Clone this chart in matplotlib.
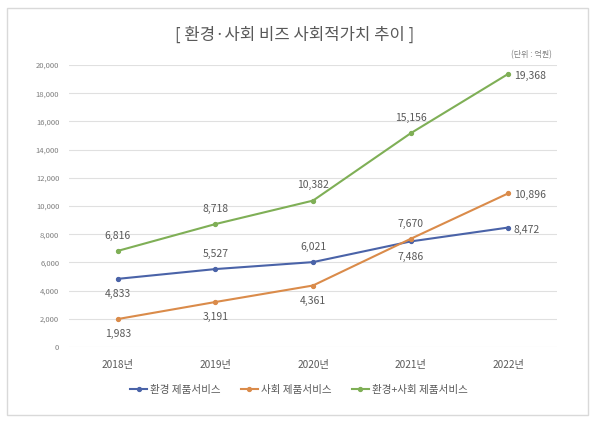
import matplotlib
matplotlib.use("Agg")
import matplotlib.pyplot as plt
from matplotlib.patches import Rectangle

plt.rcParams['font.family'] = ['Noto Sans CJK KR', 'DejaVu Sans']

years = ['2018년', '2019년', '2020년', '2021년', '2022년']
env = [4833, 5527, 6021, 7486, 8472]
soc = [1983, 3191, 4361, 7670, 10896]
total = [6816, 8718, 10382, 15156, 19368]
names = ['환경 제품서비스', '사회 제품서비스', '환경+사회 제품서비스']
colors = ['#4A63A8', '#DA8B4A', '#7FAF56']
# label positions: 'a' above, 'b' below, 'r' right
env_pos = ['b', 'a', 'a', 'b', 'r']
soc_pos = ['b', 'b', 'b', 'a', 'r']
tot_pos = ['a', 'a', 'a', 'a', 'r']

fig = plt.figure(figsize=(5.95, 4.23), dpi=100)
fig.patches.append(Rectangle((7/595, 1-415/423), 581/595, 407/423,
                             transform=fig.transFigure, fill=False,
                             edgecolor='#d9d9d9', linewidth=1.0))
ax = fig.add_axes([69/595, 76/423, 488/595, 282/423])

x = list(range(len(years)))
txtc = '#595959'
for vals, pos, c, n in zip([env, soc, total], [env_pos, soc_pos, tot_pos], colors, names):
    ax.plot(x, vals, color=c, linewidth=1.5, marker='o', markersize=2.8, label=n, zorder=3)
    for xi, v, p in zip(x, vals, pos):
        if p == 'a':
            off, ha, va = (0, 11), 'center', 'center'
        elif p == 'b':
            off, ha, va = (0, -11), 'center', 'center'
        else:
            off, ha, va = (4, -1.5), 'left', 'center'
        ax.annotate(f'{v:,}', (xi, v), xytext=off, textcoords='offset points',
                    ha=ha, va=va, fontsize=7.5, color=txtc)

ax.set_xlim(-0.5, 4.5)
ax.set_ylim(0, 20000)
ax.set_yticks(range(0, 20001, 2000))
ax.set_yticklabels([f'{v:,}' for v in range(0, 20001, 2000)], fontsize=5.5, color='#7f7f7f')
ax.set_xticks(x)
ax.set_xticklabels(years, fontsize=7.3, color=txtc)
ax.tick_params(axis='both', length=0)
ax.tick_params(axis='y', pad=7)
ax.tick_params(axis='x', pad=9)
ax.grid(axis='y', color='#e0e0e0', linewidth=0.8)
ax.set_axisbelow(True)
for s in ax.spines.values():
    s.set_visible(False)

fig.text(294.5/595, 1-35/423, '[ 환경·사회 비즈 사회적가치 추이 ]', ha='center', va='center',
         fontsize=12, color=txtc, fontweight='light')
fig.text(552/595, 1-55/423, '(단위 : 억원)', ha='right', va='center', fontsize=5.8, color='#7f7f7f')

leg = fig.legend(loc='center', bbox_to_anchor=(299/595, 1-390/423), ncol=3, frameon=False,
                 fontsize=7.6, handlelength=1.6, columnspacing=1.9, handletextpad=0.3)
for t in leg.get_texts():
    t.set_color(txtc)

fig.savefig('out.png', dpi=100)
